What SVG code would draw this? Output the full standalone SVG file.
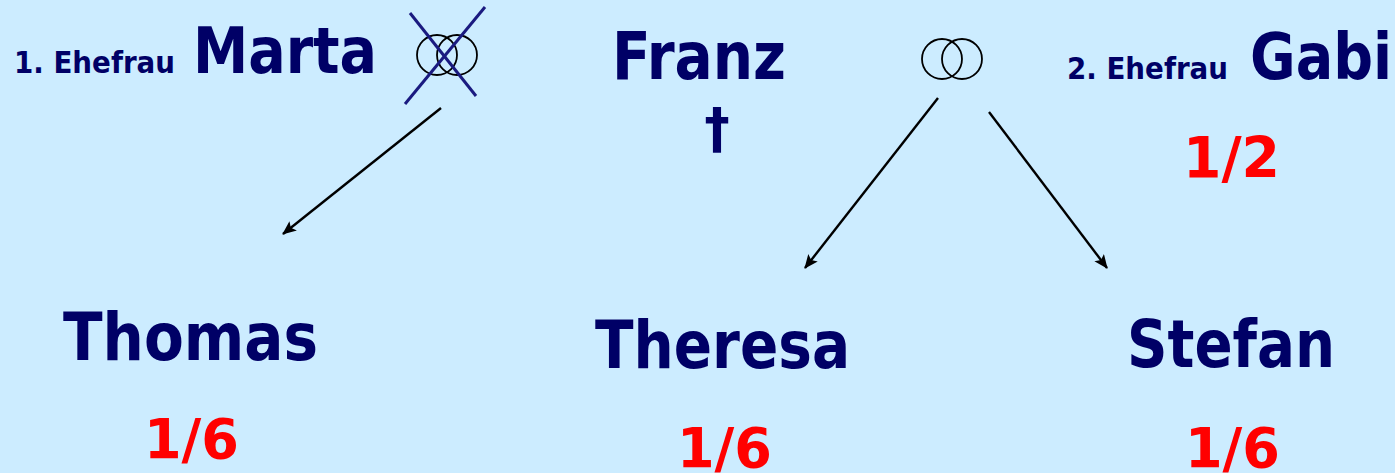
<svg xmlns="http://www.w3.org/2000/svg" width="1395" height="473" viewBox="0 0 1395 473">
<style>
.n{font-family:"DejaVu Sans Condensed","DejaVu Sans",sans-serif;font-stretch:condensed;font-weight:bold;fill:#000066}
.r{font-family:"DejaVu Sans Condensed","DejaVu Sans",sans-serif;font-stretch:condensed;font-weight:bold;fill:#FF0000}
.ring{fill:none;stroke:#000;stroke-width:1.8}
.cross{stroke:#1a1a80;stroke-width:3}
.conn{stroke:#000;stroke-width:2.4;fill:none;marker-end:url(#ah)}
</style>
<defs>
<marker id="ah" markerUnits="userSpaceOnUse" markerWidth="16" markerHeight="14" refX="13" refY="6" orient="auto">
<path d="M0,0 L14,6 L0,12 L3,6 z" fill="#000"/>
</marker>
</defs>
<rect width="1395" height="473" fill="#CCECFF"/>
<g id="marta">
<text class="n" x="14" y="73" font-size="30" textLength="161" lengthAdjust="spacingAndGlyphs">1. Ehefrau</text>
<text class="n" x="193" y="73" font-size="64" textLength="184" lengthAdjust="spacingAndGlyphs">Marta</text>
</g>
<g id="ehe1">
<circle class="ring" cx="437" cy="55" r="20"/>
<circle class="ring" cx="457" cy="55" r="20"/>
<line class="cross" x1="410" y1="13" x2="476" y2="96"/>
<line class="cross" x1="485" y1="7" x2="405" y2="104"/>
</g>
<g id="franz">
<text class="n" x="612" y="79" font-size="65" textLength="174" lengthAdjust="spacingAndGlyphs">Franz</text>
<text class="n" x="717" y="147" font-size="56" text-anchor="middle">†</text>
</g>
<g id="ehe2">
<circle class="ring" cx="942" cy="59" r="20"/>
<circle class="ring" cx="962" cy="59" r="20"/>
</g>
<g id="gabi">
<text class="n" x="1067" y="79" font-size="30" textLength="161" lengthAdjust="spacingAndGlyphs">2. Ehefrau</text>
<text class="n" x="1250" y="79" font-size="64" textLength="142" lengthAdjust="spacingAndGlyphs">Gabi</text>
<text class="r" x="1183" y="178" font-size="57" textLength="97" lengthAdjust="spacingAndGlyphs">1/2</text>
</g>
<g id="thomas">
<text class="n" x="63" y="360" font-size="66" textLength="255" lengthAdjust="spacingAndGlyphs">Thomas</text>
<text class="r" x="144" y="458" font-size="56" textLength="95" lengthAdjust="spacingAndGlyphs">1/6</text>
</g>
<g id="theresa">
<text class="n" x="595" y="368" font-size="66" textLength="255" lengthAdjust="spacingAndGlyphs">Theresa</text>
<text class="r" x="677" y="467" font-size="56" textLength="95" lengthAdjust="spacingAndGlyphs">1/6</text>
</g>
<g id="stefan">
<text class="n" x="1127" y="367" font-size="66" textLength="208" lengthAdjust="spacingAndGlyphs">Stefan</text>
<text class="r" x="1185" y="467" font-size="56" textLength="95" lengthAdjust="spacingAndGlyphs">1/6</text>
</g>
<g id="connectors">
<line class="conn" x1="441" y1="108" x2="283" y2="234"/>
<line class="conn" x1="938" y1="98" x2="805" y2="268"/>
<line class="conn" x1="989" y1="112" x2="1107" y2="268"/>
</g>
</svg>
